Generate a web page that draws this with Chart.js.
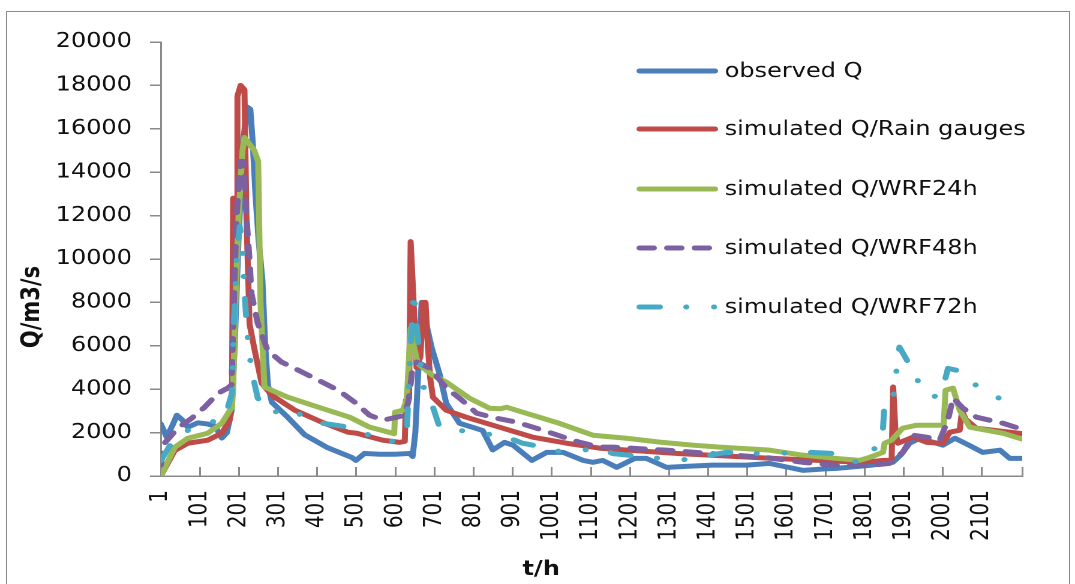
<!DOCTYPE html>
<html>
<head>
<meta charset="utf-8">
<script src="https://cdn.jsdelivr.net/npm/chart.js@4.4.1/dist/chart.umd.min.js"></script>
<style>
  body { margin: 0; background: #fff; }
  #wrap { position: relative; width: 1075px; height: 584px; overflow: hidden; }
  #frame { position: absolute; left: 6px; top: 11px; width: 1062px; height: 600px; border: 1px solid #8c8c8c; }
  #flow { position: absolute; left: 0; top: 0; }
</style>
</head>
<body>
<div id="wrap">
  <div id="frame"></div>
  <!-- drawn at 896 wide and widened to 1075 so glyphs keep the wide look -->
  <canvas id="flow" width="896" height="584" style="width:1075px;height:584px"></canvas>
</div>
<script>
const seriesNames = ['observed Q', 'simulated Q/Rain gauges', 'simulated Q/WRF24h', 'simulated Q/WRF48h', 'simulated Q/WRF72h'];
const xTicks = [1, 101, 201, 301, 401, 501, 601, 701, 801, 901, 1001, 1101, 1201, 1301, 1401, 1501, 1601, 1701, 1801, 1901, 2001, 2101];
const xEnd = 2204;

// hourly discharge, vertices of each hydrograph (t in h, Q in m3/s)
const obsT = [1,16,30,42,55,70,96,120,140,157,170,182,190,200,212,222,230,236,243,251,261,268,275,285,326,369,428,489,500,522,560,600,638,645,652,660,668,680,694,714,731,765,824,850,880,902,950,988,1030,1081,1106,1131,1167,1213,1243,1294,1350,1412,1500,1558,1600,1643,1700,1729,1814,1873,1895,1916,1942,2001,2032,2070,2103,2147,2172,2204];
const obsQ = [2400,1800,2300,2800,2600,2250,2450,2400,2300,1750,2000,3000,6000,11000,15500,17000,16900,15400,13000,10900,9000,6000,4200,3400,2700,1900,1300,860,720,1040,1000,1000,1040,900,2000,5000,8000,7000,5900,4700,3350,2430,2100,1200,1550,1420,720,1090,1090,720,630,720,400,810,810,400,450,500,500,580,420,260,330,350,490,630,1000,1510,1740,1420,1740,1400,1090,1190,810,810];

const gaugeT = [1,37,70,121,157,177,183,186,195,197,205,215,220,228,241,259,285,344,413,479,502,569,612,625,628,636,640,645,655,665,672,678,684,690,697,731,782,867,952,1039,1124,1328,1566,1797,1848,1870,1874,1880,1886,1925,1960,2001,2019,2044,2050,2060,2087,2204];
const gaugeQ = [0,1180,1510,1650,1970,2570,3500,12800,12800,17500,18000,17800,12000,7000,5800,4270,3720,3030,2480,2020,1970,1650,1550,1600,3490,3600,10800,9000,5000,5500,8000,8000,6000,4500,3630,3030,2710,2250,1790,1510,1280,1030,810,630,720,720,4100,2000,1510,1790,1550,1510,2020,2110,3000,2600,2200,1950];

const wrf24T = [1,37,70,121,157,183,186,192,200,210,215,240,250,256,266,326,413,484,535,598,600,620,630,640,648,658,696,731,790,842,870,885,936,1020,1106,1192,1277,1362,1430,1558,1643,1729,1788,1814,1848,1852,1870,1898,1934,2003,2008,2027,2044,2070,2155,2204];
const wrf24Q = [0,1330,1740,1970,2430,3170,4000,8000,12000,15000,15600,15000,14500,8000,4100,3630,3120,2710,2250,1950,2940,3030,3500,6800,6000,5190,4640,4330,3590,3120,3100,3170,2890,2430,1880,1740,1560,1420,1330,1190,960,810,720,860,1090,1510,1650,2200,2340,2340,3950,4050,3030,2250,1970,1700];

const wrf48T = [1,10,44,80,113,147,172,182,188,195,205,212,220,228,233,249,274,310,369,454,497,535,569,604,625,635,645,656,690,731,765,809,860,911,978,1039,1071,1124,1157,1294,1412,1550,1643,1729,1814,1865,1898,1925,1960,1993,2014,2027,2053,2087,2155,2204];
const wrf48Q = [500,1500,2200,2660,3170,3810,4050,4200,8000,12000,14500,14500,12000,9950,8400,7030,5800,5250,4730,3960,3400,2800,2570,2710,2800,3500,5000,5250,4960,4050,3590,2890,2660,2480,2110,1740,1560,1330,1330,1190,1030,850,630,490,490,580,1090,1880,1790,1650,2570,3590,3120,2710,2430,2150];

const wrf72T = [1,37,96,131,165,183,188,195,203,210,215,222,233,249,285,326,369,395,484,535,586,612,630,640,648,655,671,697,714,765,824,860,926,978,1030,1124,1157,1328,1448,1550,1660,1729,1788,1814,1831,1848,1852,1873,1890,1921,1947,1975,1998,2014,2037,2078,2121,2155,2175];
const wrf72Q = [700,1790,2340,2480,2710,3810,7000,10000,11500,10500,8500,6570,4870,3590,2890,3170,2710,2480,2250,1880,1510,1880,2000,6000,8500,7000,4180,3170,2250,2110,1880,1970,1510,1330,1090,1280,1030,720,1090,1030,1090,1030,580,1090,1330,2200,3400,3500,5940,4960,4040,3630,3810,4960,4870,4270,3810,3490,3300];

const FONT = 'DejaVu Sans';
const AXIS = '#8a8a8a';

function pts(t, q) {
    return t.map((x, i) => ({ x: x, y: q[i] }));
}

function series(i, t, q, color, dash, order) {
    return {
        label: seriesNames[i],
        data: pts(t, q),
        borderColor: color,
        backgroundColor: color,
        borderWidth: 5,
        borderDash: dash,
        borderCapStyle: 'round',
        borderJoinStyle: 'round',
        pointRadius: 0,
        tension: 0,
        fill: false,
        order: order
    };
}

// legend + axis titles drawn by hand (legend sits inside the plot, right side)
const extras = {
    id: 'extras',
    afterDraw(chart) {
        const ctx = chart.ctx;
        ctx.save();
        const rows = [71, 129, 189, 248, 307];
        chart.data.datasets.forEach((ds, i) => {
            const y = rows[i];
            ctx.beginPath();
            ctx.strokeStyle = ds.borderColor;
            ctx.lineWidth = 5;
            ctx.lineCap = 'round';
            ctx.setLineDash(ds.borderDash || []);
            ctx.moveTo(533, y);
            ctx.lineTo(596, y);
            ctx.stroke();
            ctx.setLineDash([]);
            ctx.fillStyle = '#111';
            ctx.font = '20px "' + FONT + '"';
            ctx.textAlign = 'left';
            ctx.textBaseline = 'middle';
            ctx.fillText(ds.label, 604, y + 1);
        });

        ctx.fillStyle = '#111';
        ctx.font = 'bold 20px "' + FONT + '"';
        ctx.textAlign = 'center';
        ctx.textBaseline = 'middle';
        ctx.fillText('t/h', 451, 570);

        ctx.translate(27, 307);
        ctx.rotate(-Math.PI / 2);
        ctx.font = 'bold 21px "' + FONT + '"';
        ctx.fillText('Q/m3/s', 0, 0);
        ctx.restore();
    }
};

new Chart(document.getElementById('flow'), {
    type: 'line',
    data: {
        datasets: [
            series(0, obsT, obsQ, '#4A7EBB', [], 5),
            series(1, gaugeT, gaugeQ, '#BE4B48', [], 4),
            series(2, wrf24T, wrf24Q, '#98B954', [], 3),
            series(3, wrf48T, wrf48Q, '#7D60A0', [12, 11], 2),
            series(4, wrf72T, wrf72Q, '#46AAC5', [17, 22, 0.1, 23, 0.1, 22], 1)
        ]
    },
    options: {
        responsive: false,
        devicePixelRatio: 2,
        animation: false,
        layout: { padding: { left: 0, top: 42, right: 44, bottom: 0 } },
        plugins: {
            legend: { display: false },
            tooltip: { enabled: false }
        },
        scales: {
            x: {
                type: 'linear',
                min: 1,
                max: xEnd,
                afterBuildTicks(scale) {
                    scale.ticks = xTicks.concat([xEnd]).map(v => ({ value: v }));
                },
                afterFit(scale) {
                    scale.height = 108;
                    scale.paddingLeft = 0;
                    scale.paddingRight = 0;
                },
                ticks: {
                    autoSkip: false,
                    minRotation: 90,
                    maxRotation: 90,
                    padding: 23,
                    color: '#111',
                    font: { family: FONT, size: 20 },
                    callback: v => (xTicks.includes(v) ? String(v) : '')
                },
                grid: { drawOnChartArea: false, drawTicks: true, tickLength: -9, color: AXIS, lineWidth: 1.5 },
                border: { color: AXIS, width: 1.5 }
            },
            y: {
                min: 0,
                max: 20000,
                afterFit(scale) {
                    scale.width = 134;
                    scale.paddingTop = 0;
                    scale.paddingBottom = 0;
                },
                ticks: {
                    stepSize: 2000,
                    padding: 15,
                    color: '#111',
                    font: { family: FONT, size: 20 },
                    callback: v => String(v)
                },
                grid: { drawOnChartArea: false, drawTicks: true, tickLength: 9, color: AXIS, lineWidth: 1.5 },
                border: { color: AXIS, width: 1.5 }
            }
        }
    },
    plugins: [extras]
});
</script>
</body>
</html>
